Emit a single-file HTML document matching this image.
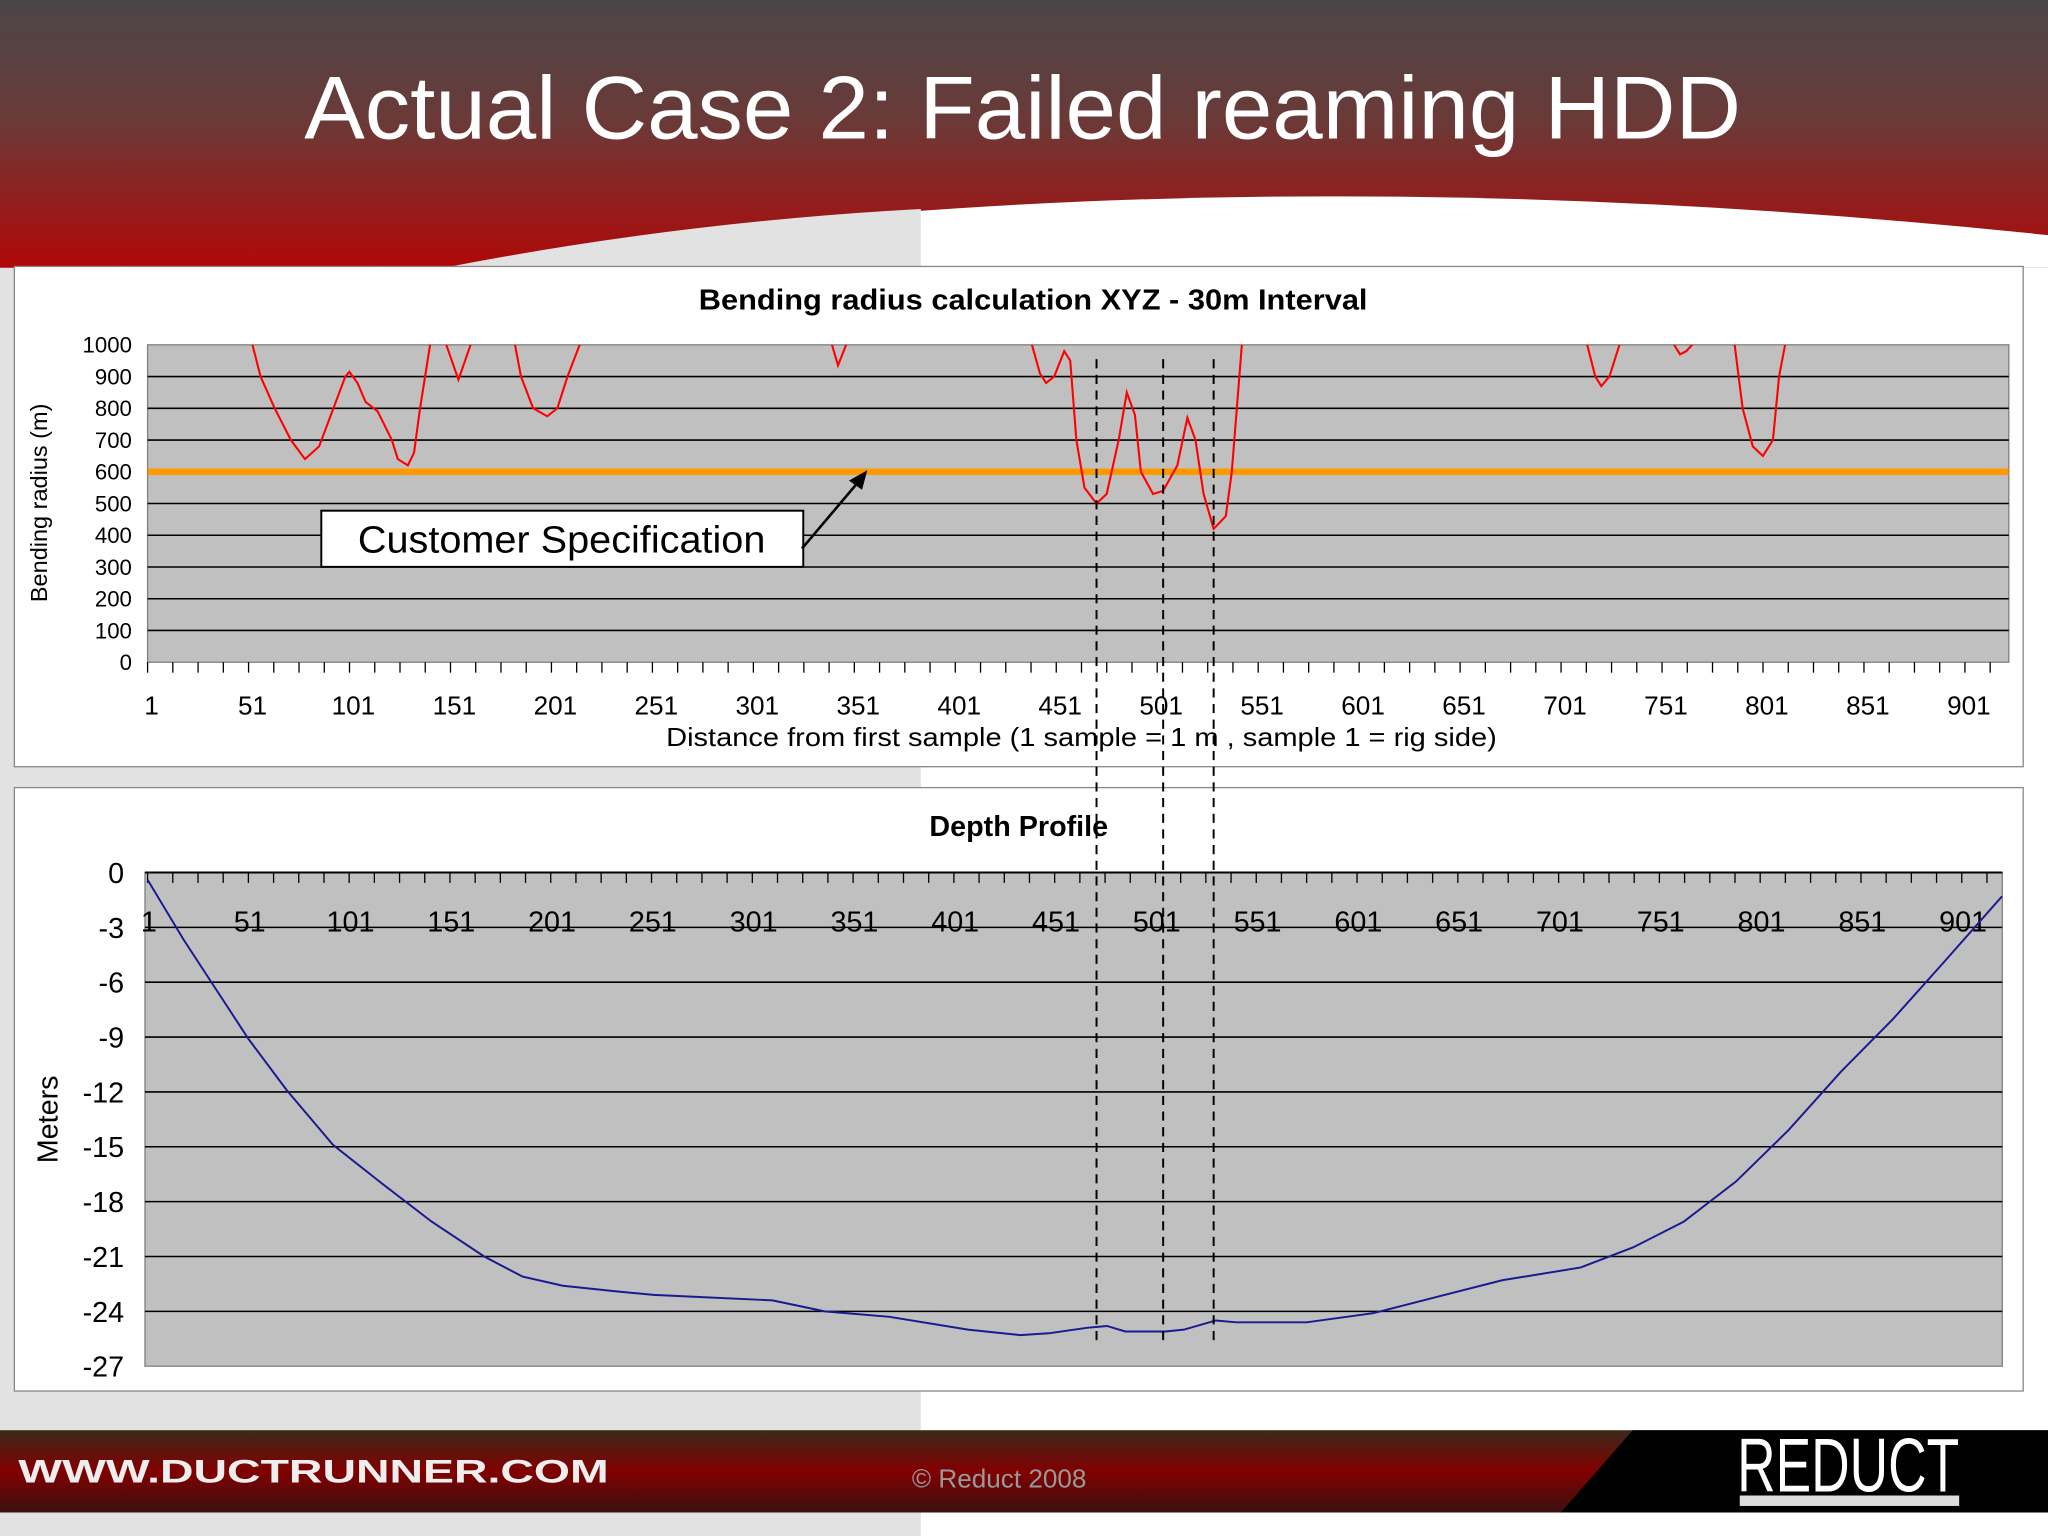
<!DOCTYPE html>
<html><head><meta charset="utf-8"><style>
html,body{margin:0;padding:0;background:#fff;}
svg{display:block;font-family:"Liberation Sans",Arial,sans-serif;}
</style></head><body>
<svg id="root" width="2048" height="1536" viewBox="0 0 1568 1176" xmlns="http://www.w3.org/2000/svg">
<defs>
<linearGradient id="hdr" x1="0" y1="0" x2="0" y2="1">
<stop offset="0" stop-color="#4a4648"/><stop offset="0.45" stop-color="#6a3a38"/><stop offset="1" stop-color="#b00808"/></linearGradient>
<linearGradient id="ftr" x1="0" y1="0" x2="0" y2="1">
<stop offset="0" stop-color="#3a2a1a"/><stop offset="0.5" stop-color="#820000"/><stop offset="1" stop-color="#3a1010"/></linearGradient>
<clipPath id="clip1"><rect x="113" y="264" width="1425" height="243"/></clipPath>
<clipPath id="clip2"><rect x="111" y="668" width="1422" height="378"/></clipPath>
</defs>
<rect x="0" y="0" width="1568" height="1176" fill="#fff"/>
<rect x="0" y="150" width="705" height="1026" fill="#e2e2e2"/>
<rect x="0" y="0" width="1568" height="205" fill="url(#hdr)"/>
<path d="M340,205 Q900,110 1568,180 L1568,205 Z" fill="#fff"/>
<path d="M340,205 Q520,170 705,160 L705,205 Z" fill="#e2e2e2"/>
<text x="783" y="106" font-size="68" fill="#fff" text-anchor="middle" textLength="1100" lengthAdjust="spacingAndGlyphs">Actual Case 2: Failed reaming HDD</text>

<!-- chart 1 -->
<rect x="11" y="204" width="1538" height="383" fill="#fff" stroke="#888" stroke-width="1"/>
<text x="791" y="237" font-size="22" font-weight="bold" text-anchor="middle" textLength="512" lengthAdjust="spacingAndGlyphs">Bending radius calculation XYZ - 30m Interval</text>
<rect x="113" y="264" width="1425" height="243" fill="#c0c0c0" stroke="#808080"/>
<g id="g1grid"></g>
<text transform="translate(36,385) rotate(-90)" font-size="18" text-anchor="middle">Bending radius (m)</text>
<text x="828" y="571" font-size="20" text-anchor="middle" textLength="636" lengthAdjust="spacingAndGlyphs">Distance from first sample (1 sample = 1 m , sample 1 = rig side)</text>
<g id="g1lines" clip-path="url(#clip1)"></g>
<rect x="246" y="391" width="369" height="43" fill="#fff" stroke="#000" stroke-width="1.5"/>
<text x="430" y="423" font-size="29" text-anchor="middle" textLength="312" lengthAdjust="spacingAndGlyphs">Customer Specification</text>
<line x1="614" y1="420" x2="658" y2="368" stroke="#000" stroke-width="2"/>
<polygon points="664,360 650,368 660,375" fill="#000"/>

<!-- chart 2 -->
<rect x="11" y="603" width="1538" height="462" fill="#fff" stroke="#888" stroke-width="1"/>
<text x="780" y="640" font-size="22" font-weight="bold" text-anchor="middle">Depth Profile</text>
<rect x="111" y="668" width="1422" height="378" fill="#c0c0c0" stroke="#808080"/>
<g id="g2grid"></g>
<text transform="translate(44,857) rotate(-90)" font-size="22" text-anchor="middle">Meters</text>
<g id="g2lines" clip-path="url(#clip2)"></g>
<g id="dashes"></g>

<!-- footer -->
<rect x="0" y="1095" width="1568" height="63" fill="url(#ftr)"/>
<polygon points="1250,1095 1568,1095 1568,1158 1195,1158" fill="#000"/>
<text x="14" y="1135" font-size="25" font-weight="bold" fill="#eee" textLength="452" lengthAdjust="spacingAndGlyphs">WWW.DUCTRUNNER.COM</text>
<text x="765" y="1139" font-size="20" fill="#999" text-anchor="middle">© Reduct 2008</text>
<text x="1415" y="1142" font-size="58" fill="#fff" text-anchor="middle" textLength="170" lengthAdjust="spacingAndGlyphs">REDUCT</text>
<rect x="1332" y="1145" width="168" height="8" fill="#ddd"/>
</svg>
<script>
const NS="http://www.w3.org/2000/svg";
// chart 1 data
const radiusTicks=[0,100,200,300,400,500,600,700,800,900,1000];
const xTickLabels=[1,51,101,151,201,251,301,351,401,451,501,551,601,651,701,751,801,851,901];
const specValue=600;
const markerSamples=[469,502,527];
const radiusSamples=[49,51,55,62,70,77,84,97,99,103,107,113,120,123,128,131,134,139,141,null,145,147,153,159,161,null,179,181,184,190,197,202,207,213,215,null,336,338,341,345,347,null,435,437,441,444,448,453,456,459,463,469,474,480,484,488,491,497,502,509,514,518,522,527,533,536,541,543,null,710,712,716,719,723,728,730,null,753,755,758,761,764,766,null,783,785,789,794,799,804,807,810,812];
const radiusValues=[1100,1000,900,800,700,640,680,900,915,880,820,790,700,640,620,660,800,1000,1100,null,1100,1000,890,1000,1100,null,1100,1000,900,800,775,800,900,1000,1100,null,1100,1000,935,1000,1100,null,1100,1000,910,880,900,980,950,700,550,500,530,700,850,780,600,530,540,620,770,700,530,420,460,600,1000,1100,null,1100,1000,900,870,900,1000,1100,null,1100,1000,970,980,1000,1100,null,1100,1000,800,680,650,700,900,1000,1100];
// chart 2 data
const depthTicks=[0,-3,-6,-9,-12,-15,-18,-21,-24,-27];
const depthSamples=[1,19,35,51,70,93,116,142,168,187,207,233,252,272,311,337,369,408,434,448,467,477,486,506,515,531,541,576,609,641,673,712,738,763,789,815,841,867,893,921];
const depthValues=[-0.4,-3.7,-6.4,-9.1,-11.9,-14.9,-16.9,-19.1,-21,-22.1,-22.6,-22.9,-23.1,-23.2,-23.4,-24,-24.3,-25,-25.3,-25.2,-24.9,-24.8,-25.1,-25.1,-25,-24.5,-24.6,-24.6,-24.1,-23.2,-22.3,-21.6,-20.5,-19.1,-16.9,-14.1,-10.9,-8,-4.8,-1.3];

function x1(s){return 116+(s-1)*1.546;}
function y1(v){return 507-v*0.243;}
function x2(s){return 113+(s-1)*1.5433;}
function y2(v){return 668-v*14;}
function mk(tag,attrs,parent){const e=document.createElementNS(NS,tag);for(const k in attrs)e.setAttribute(k,attrs[k]);parent.appendChild(e);return e;}

const g1=document.getElementById('g1grid');
radiusTicks.forEach(v=>{
  if(v>0&&v<1000){const l=mk('line',{x1:113,x2:1538,y1:y1(v),y2:y1(v),stroke:'#000','stroke-width':1.2},g1);
  
  }
  const t=mk('text',{x:101,y:y1(v)+6,'font-size':17,'text-anchor':'end'},g1);t.textContent=v;
  
  
});
for(let s=1;s<=921;s+=12.5){mk('line',{x1:x1(s)-3,x2:x1(s)-3,y1:507,y2:515,stroke:'#000','stroke-width':1},g1);}
xTickLabels.forEach(s=>{const t=mk('text',{x:x1(s),y:547,'font-size':20,'text-anchor':'middle'},g1);t.textContent=s;
  
  });

const gl1=document.getElementById('g1lines');
const spec=mk('line',{x1:113,x2:1538,y1:y1(specValue),y2:y1(specValue),stroke:'#ff9900','stroke-width':5},gl1);


let segs=[],cur=[];
radiusSamples.forEach((s,i)=>{if(s===null){if(cur.length)segs.push(cur);cur=[];}else cur.push(x1(s).toFixed(1)+','+y1(radiusValues[i]).toFixed(1));});
if(cur.length)segs.push(cur);
segs.forEach(sg=>{const p=mk('polyline',{points:sg.join(' '),fill:'none',stroke:'#ff0000','stroke-width':1.6},gl1);
  
  });

const g2=document.getElementById('g2grid');
depthTicks.forEach(v=>{
  if(v<0&&v>-27){const l=mk('line',{x1:111,x2:1533,y1:y2(v),y2:y2(v),stroke:'#000','stroke-width':1.2},g2);
  
  }
  const t=mk('text',{x:95,y:y2(v)+8,'font-size':22,'text-anchor':'end'},g2);t.textContent=v;
  
  
});
mk('line',{x1:111,x2:1533,y1:668,y2:668,stroke:'#000','stroke-width':1.5},g2);
for(let s=1;s<=921;s+=12.5){mk('line',{x1:x2(s),x2:x2(s),y1:668,y2:676,stroke:'#000','stroke-width':1},g2);}
xTickLabels.forEach(s=>{const t=mk('text',{x:x2(s)+1,y:713,'font-size':22,'text-anchor':'middle'},g2);t.textContent=s;
  
  });
const gl2=document.getElementById('g2lines');
const dp=mk('polyline',{points:depthSamples.map((s,i)=>x2(s).toFixed(1)+','+y2(depthValues[i]).toFixed(1)).join(' '),fill:'none',stroke:'#1a1a90','stroke-width':1.5},gl2);



const gd=document.getElementById('dashes');
markerSamples.forEach(s=>{const l=mk('line',{x1:x1(s),x2:x1(s),y1:275,y2:1030,stroke:'#000','stroke-width':1.5,'stroke-dasharray':'7,5'},gd);
  
  });
</script>
</body></html>
